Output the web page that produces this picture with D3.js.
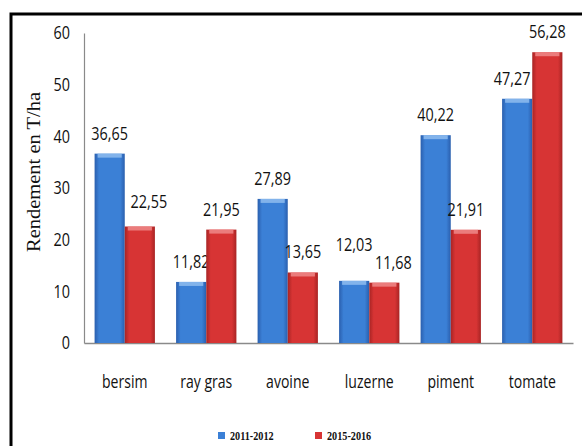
<!DOCTYPE html>
<html><head><meta charset="utf-8">
<script src="https://cdn.jsdelivr.net/npm/d3@7"></script>
<style>
html,body{margin:0;padding:0;background:#fff;}
svg{display:block;}
</style></head>
<body>
<script>
const categories = ["bersim","ray gras","avoine","luzerne","piment","tomate"];
const series2011 = [36.65, 11.82, 27.89, 12.03, 40.22, 47.27];
const series2015 = [22.55, 21.95, 13.65, 11.68, 21.91, 56.28];
const seriesNames = ["2011-2012","2015-2016"];
const yTicks = [0,10,20,30,40,50,60];

const W = 582, H = 446;
const svg = d3.select("body").append("svg").attr("width",W).attr("height",H);
const defs = svg.append("defs");

function grad(id, edge, mid){
  const g = defs.append("linearGradient").attr("id",id).attr("x1","0").attr("x2","1").attr("y1","0").attr("y2","0");
  g.append("stop").attr("offset","0%").attr("stop-color",edge);
  g.append("stop").attr("offset","15%").attr("stop-color",mid);
  g.append("stop").attr("offset","85%").attr("stop-color",mid);
  g.append("stop").attr("offset","100%").attr("stop-color",edge);
}
grad("gBlue","#2a5fae","#3b80d6");
grad("gRed","#a82424","#d73434");
const colors = ["url(#gBlue)","url(#gRed)"];
const topColors = ["#8fbcee","#ef8a8a"];

// label placement nudges (layout only), keyed "category|seriesIndex"
const nudge = {"bersim|1":[9,-4], "luzerne|0":[0,-16], "luzerne|1":[9,0], "tomate|0":[-5,0]};

// frame
svg.append("path").attr("d",`M11,${H} L11,14 L${W},14`).attr("fill","none").attr("stroke","#000").attr("stroke-width",3);

const x0 = 84, x1 = 573, yB = 343, yT = 33;
const x = d3.scaleBand().domain(categories).range([x0,x1]).paddingInner(0.26).paddingOuter(0.13);
const xs = d3.scaleBand().domain([0,1]).range([0,x.bandwidth()]);
const y = d3.scaleLinear().domain([0,60]).range([yB,yT]);

const font = "'Open Sans','DejaVu Sans',sans-serif";
function narrow(sel, k){
  sel.each(function(){
    const w = this.getComputedTextLength();
    d3.select(this).attr("textLength", w*k).attr("lengthAdjust","spacingAndGlyphs");
  });
}

// y axis
const ya = svg.append("g").attr("transform",`translate(${x0},0)`).call(d3.axisLeft(y).tickValues(yTicks).tickSize(0).tickPadding(14));
ya.select(".domain").attr("stroke","#8a8a8a").attr("stroke-width",1.2);
ya.selectAll("text").attr("font-family",font).attr("font-size",18).attr("fill","#111").call(narrow,0.8);

// x axis
const xa = svg.append("g").attr("transform",`translate(0,${yB})`).call(d3.axisBottom(x).tickSize(0).tickPadding(32));
xa.select(".domain").attr("stroke","#8a8a8a").attr("stroke-width",1.5);
xa.selectAll("text").attr("font-family",font).attr("font-size",18).attr("fill","#111").call(narrow,0.78);

const data = [series2011, series2015];
data.forEach((vals,si)=>{
  const g = svg.append("g");
  const nd = i => nudge[categories[i]+"|"+si] || [0,0];
  g.selectAll("rect.bar").data(vals).join("rect").attr("class","bar")
    .attr("x",(d,i)=>x(categories[i])+xs(si))
    .attr("y",d=>y(d)).attr("width",xs.bandwidth()).attr("height",d=>y(0)-y(d))
    .attr("fill",colors[si]);
  g.selectAll("rect.top").data(vals).join("rect").attr("class","top")
    .attr("x",(d,i)=>x(categories[i])+xs(si)+3)
    .attr("y",d=>y(d)).attr("width",xs.bandwidth()-6).attr("height",4)
    .attr("fill",topColors[si]).attr("opacity",0.85);
  g.selectAll("text").data(vals).join("text")
    .attr("x",(d,i)=>x(categories[i])+xs(si)+xs.bandwidth()/2+nd(i)[0])
    .attr("y",(d,i)=>y(d)-14+nd(i)[1])
    .attr("text-anchor","middle").attr("font-family",font).attr("font-size",18).attr("fill","#111")
    .text(d=>d.toFixed(2).replace(".",","))
    .call(narrow,0.8);
});

// y title
svg.append("text").attr("transform","translate(40,172) rotate(-90)")
  .attr("text-anchor","middle").attr("font-family","'Liberation Serif','Times New Roman',serif")
  .attr("font-size",18).attr("fill","#111").text("Rendement en T/ha")
  .attr("textLength",160).attr("lengthAdjust","spacingAndGlyphs");

// legend
const legX = [218, 315];
const legFill = ["#3b80d6","#d73434"];
seriesNames.forEach((n,i)=>{
  svg.append("rect").attr("x",legX[i]).attr("y",432).attr("width",7).attr("height",7).attr("fill",legFill[i]);
  svg.append("text").attr("x",legX[i]+12).attr("y",440).attr("font-family","'Liberation Serif',serif").attr("font-weight","bold")
    .attr("font-size",12).attr("fill","#111").text(n).call(narrow,0.85);
});
</script>
</body></html>
